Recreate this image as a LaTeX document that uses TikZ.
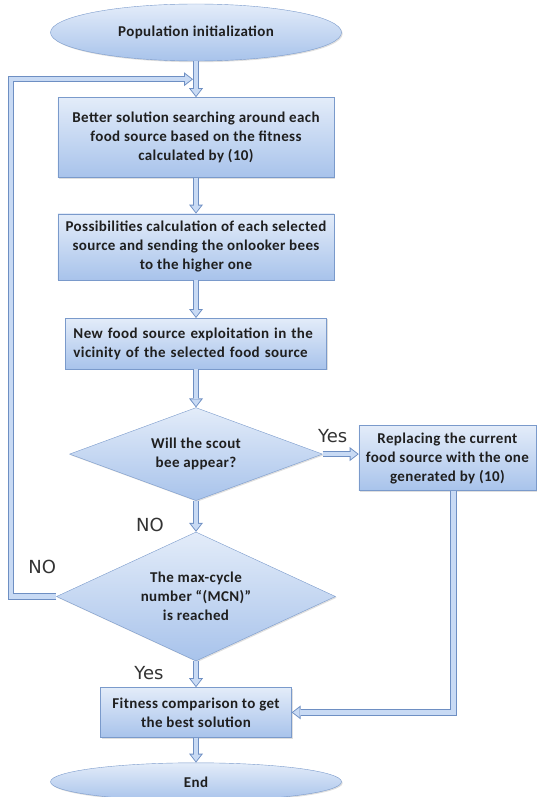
\documentclass[tikz,border=0pt]{standalone}
\usepackage{fontspec}
\setmainfont{Carlito}[LetterSpace=2.5]
\newfontfamily\lblfont{DejaVu Sans}
\usepackage{tikz}
\usetikzlibrary{shapes.geometric, arrows.meta, positioning, shadows}

\definecolor{edgeblue}{HTML}{7A9ACB}
\definecolor{shadetop}{HTML}{E3ECF9}
\definecolor{shadebot}{HTML}{A8C3EB}
\definecolor{arrfill}{HTML}{C8DAF4}
\definecolor{arredge}{HTML}{6E8FC3}

\begin{document}
\begin{tikzpicture}[
  x=1bp, y=1bp,
  txt/.style={font=\fontsize{15bp}{19bp}\selectfont\bfseries, text=black!88},
  bluefill/.style={draw=edgeblue, top color=shadetop, bottom color=shadebot,
                drop shadow={shadow xshift=1.2bp, shadow yshift=-1.2bp, opacity=0.25}},
  term/.style={ellipse, bluefill, inner sep=0pt, minimum width=291bp, txt},
  box/.style={rectangle, bluefill, inner sep=2bp, align=center, txt},
  dec/.style={diamond, bluefill, inner sep=0pt, align=center, txt},
  lbl/.style={font=\lblfont\fontsize{18bp}{20bp}\selectfont, text=black!80},
  flow/.style={line width=6.4bp, draw=arredge,
               -{Triangle[length=9bp, width=14bp, line width=0pt]},
               postaction={draw=arrfill, line width=4.2bp,
                 -{Triangle[length=6.6bp, width=10bp, line width=0pt]}, shorten >=1.4bp}}
]
\useasboundingbox (0,0) rectangle (540,-797);
\node[term, minimum height=57bp] (start) at (196,-32.5) {Population initialization};
\node[box, minimum width=276bp, minimum height=80bp, below=36bp of start] (search)
  {Better solution searching around each\\ food source based on the fitness\\ calculated by (10)};
\node[box, minimum width=276bp, minimum height=66bp, below=36bp of search] (onlook)
  {Possibilities calculation of each selected\\ source and sending the onlooker bees\\ to the higher one};
\node[box, text width=245bp, inner xsep=8bp, align=left, minimum height=51bp, below=38bp of onlook] (exploit)
  {New food source exploitation in the\\ vicinity of the selected food source};
\node[dec, aspect=2.7, minimum width=253bp, minimum height=93bp, below=38bp of exploit] (scout)
  {Will the scout\\ bee appear?};
\node[box, minimum width=177bp, minimum height=65bp, right=36bp of scout, yshift=-4bp] (replace)
  {Replacing the current\\ food source with the one\\ generated by (10)};
\node[dec, aspect=2.2, minimum width=279bp, minimum height=129bp, below=31bp of scout] (mcn)
  {The max-cycle\\ number ``(MCN)''\\ is reached};
\node[box, minimum width=191bp, minimum height=50bp, below=26bp of mcn] (best)
  {Fitness comparison to get\\ the best solution};
\node[term, minimum height=38bp, below=25bp of best] (stop) {End};
\coordinate[below=18bp of start] (join);

% labels
\node[lbl] (yesA) at ([shift={(10bp,18bp)}]scout.east) {Yes};
\node[lbl] (noA) at ([shift={(-46bp,-24bp)}]scout.south) {NO};
\node[lbl] (noB) at ([shift={(-14bp,30bp)}]mcn.west) {NO};
\node[lbl] (yesB) at ([shift={(-47bp,-12bp)}]mcn.south) {Yes};

% main flow
\foreach \a/\b in {start/search,search/onlook,onlook/exploit,exploit/scout,scout/mcn,mcn/best,best/stop}
  \draw[flow] (\a)--(\b);
\draw[flow] (scout.east) -- (scout.east -| replace.west);
\draw[flow] ([xshift=6bp]replace.south) |- (best.east);
\draw[flow] (mcn.west) -- ++(-45bp,0) |- ([xshift=-3bp]join);
\end{tikzpicture}
\end{document}
